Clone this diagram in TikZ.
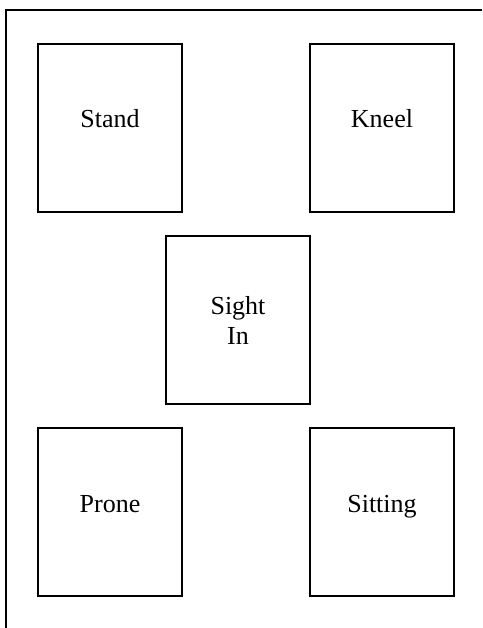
\documentclass[tikz,border=0pt]{standalone}
\usepackage{fontspec}
\setmainfont{Liberation Serif}
\begin{document}
\begin{tikzpicture}[
  x=1pt,
  y=-1pt,
  line cap=butt
]

  % styles for the stations
  \tikzset{
    station/.style={draw, line width=2.6pt, minimum width=144pt,
      minimum height=168pt, inner sep=0pt,
      font=\fontsize{26}{30}\selectfont, align=center},
    onerow/.style={text height=19pt, text depth=19pt}
  }

  \useasboundingbox (0,0) rectangle (482,628);

  % outer frame, open at right and bottom
  \draw[line width=2.4pt] (6,628) -- (6,10) -- (482,10);

  % corner stations
  \foreach \n/\x/\y/\t in {stand/110/128/Stand, kneel/382/128/Kneel,
                           prone/110/512/Prone, sitting/382/512/Sitting} {
    \node[station, onerow] (\n) at (\x,\y) {\t};
  }

  % middle station
  \node[station] (sight) at (238,320) {Sight\\In};

\end{tikzpicture}
\end{document}
